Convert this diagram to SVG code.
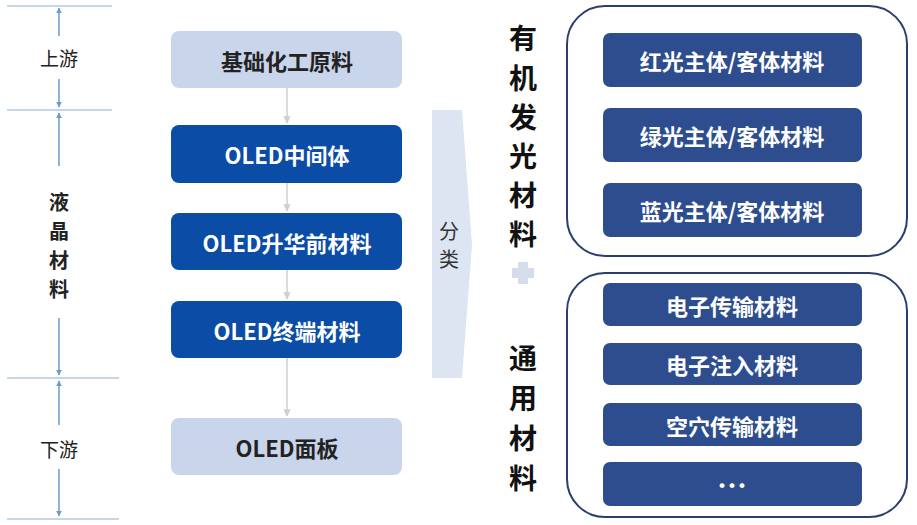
<svg xmlns="http://www.w3.org/2000/svg" width="917" height="525" viewBox="0 0 917 525">
<defs>
<style>
.t{font-family:"Noto Sans CJK SC","Liberation Sans",sans-serif;font-weight:bold;text-anchor:middle;dominant-baseline:central}
.lt{fill:#c9d5ea}.dk{fill:#0b4ca6}.in{fill:#2d4d8e}
.wl{fill:#fff;font-size:22px}.bk{fill:#222;font-size:22px}
.vl{fill:#222;font-size:20px}
.ti{font-size:28px;fill:#111}
.grid{stroke:#8aaed0;stroke-width:1.2}
.ar{stroke:#6a9bcb;stroke-width:1.5;fill:none}
.cn{stroke:#cfcfcf;stroke-width:1.5;fill:none}
.box{fill:none;stroke:#2a3f6c;stroke-width:2}
</style>
<marker id="ba" viewBox="0 0 10 10" refX="9" refY="5" markerWidth="4" markerHeight="4" orient="auto-start-reverse"><path d="M0,0L10,5L0,10z" fill="#6a9bcb"/></marker>
<marker id="ga" viewBox="0 0 10 10" refX="9" refY="5" markerWidth="5" markerHeight="5" orient="auto"><path d="M0,0L10,5L0,10z" fill="#d0d0d0"/></marker>
</defs>
<g id="axis">
<line class="grid" x1="7" y1="6" x2="112" y2="6"/>
<line class="grid" x1="7" y1="110" x2="112" y2="110"/>
<line class="grid" x1="7" y1="378" x2="119" y2="378"/>
<line class="grid" x1="7" y1="519" x2="119" y2="519"/>
<line class="ar" x1="59" y1="36" x2="59" y2="8" marker-end="url(#ba)"/>
<line class="ar" x1="59" y1="79" x2="59" y2="107" marker-end="url(#ba)"/>
<line class="ar" x1="59" y1="166" x2="59" y2="113" marker-end="url(#ba)"/>
<line class="ar" x1="59" y1="318" x2="59" y2="375" marker-end="url(#ba)"/>
<line class="ar" x1="59" y1="425" x2="59" y2="381" marker-end="url(#ba)"/>
<line class="ar" x1="59" y1="469" x2="59" y2="516" marker-end="url(#ba)"/>
<text class="t" x="59" y="57" style="font-weight:normal;font-size:19px;fill:#222">上游</text>
<text class="t" x="59" y="448" style="font-weight:normal;font-size:19px;fill:#222">下游</text>
<text class="t vl" x="59" y="201">液</text>
<text class="t vl" x="59" y="230">晶</text>
<text class="t vl" x="59" y="259">材</text>
<text class="t vl" x="59" y="288">料</text>
</g>
<g id="connectors">
<line class="cn" x1="287" y1="88" x2="287" y2="123" marker-end="url(#ga)"/>
<line class="cn" x1="287" y1="183" x2="287" y2="211" marker-end="url(#ga)"/>
<line class="cn" x1="287" y1="270" x2="287" y2="299" marker-end="url(#ga)"/>
<line class="cn" x1="287" y1="358" x2="287" y2="416" marker-end="url(#ga)"/>
</g>
<g id="n1"><rect class="lt" x="171" y="31" width="231" height="57" rx="8"/><text class="t bk" x="287" y="60">基础化工原料</text></g>
<g id="n2"><rect class="dk" x="171" y="125" width="231" height="58" rx="8"/><text class="t wl" x="287" y="154">OLED中间体</text></g>
<g id="n3"><rect class="dk" x="171" y="213" width="231" height="57" rx="8"/><text class="t wl" x="287" y="242">OLED升华前材料</text></g>
<g id="n4"><rect class="dk" x="171" y="301" width="231" height="57" rx="8"/><text class="t wl" x="287" y="330">OLED终端材料</text></g>
<g id="n5"><rect class="lt" x="171" y="418" width="231" height="57" rx="8"/><text class="t bk" x="287" y="447">OLED面板</text></g>
<g id="classify">
<polygon points="432,110 462,110 472,245 462,378 432,378" fill="#dde5f2"/>
<text class="t" x="449" y="230" style="font-weight:normal;font-size:20px;fill:#333">分</text>
<text class="t" x="449" y="258" style="font-weight:normal;font-size:20px;fill:#333">类</text>
</g>
<g id="titles">
<text class="t ti" x="523" y="37">有</text>
<text class="t ti" x="523" y="77">机</text>
<text class="t ti" x="523" y="116">发</text>
<text class="t ti" x="523" y="155">光</text>
<text class="t ti" x="523" y="194">材</text>
<text class="t ti" x="523" y="233">料</text>
<text class="t ti" x="523" y="357">通</text>
<text class="t ti" x="523" y="397">用</text>
<text class="t ti" x="523" y="437">材</text>
<text class="t ti" x="523" y="477">料</text>
<path d="M518,262h10v6h6v10h-6v6h-10v-6h-6v-10h6z" fill="#d5dcea"/>
</g>
<g id="group1"><rect class="box" x="567" y="6" width="340" height="250" rx="38"/></g>
<g id="group2"><rect class="box" x="567" y="273" width="340" height="244" rx="38"/></g>
<g id="m1"><rect class="in" x="603" y="33" width="259" height="54" rx="7"/><text class="t wl" x="732" y="60">红光主体/客体材料</text></g>
<g id="m2"><rect class="in" x="603" y="108" width="259" height="54" rx="7"/><text class="t wl" x="732" y="135">绿光主体/客体材料</text></g>
<g id="m3"><rect class="in" x="603" y="183" width="259" height="54" rx="7"/><text class="t wl" x="732" y="210">蓝光主体/客体材料</text></g>
<g id="m4"><rect class="in" x="603" y="283" width="259" height="43" rx="7"/><text class="t wl" x="732" y="305">电子传输材料</text></g>
<g id="m5"><rect class="in" x="603" y="343" width="259" height="42" rx="7"/><text class="t wl" x="732" y="364">电子注入材料</text></g>
<g id="m6"><rect class="in" x="603" y="403" width="259" height="43" rx="7"/><text class="t wl" x="732" y="425">空穴传输材料</text></g>
<g id="m7"><rect class="in" x="603" y="462" width="259" height="44" rx="7"/><text class="t wl" x="732" y="484" style="font-size:30px">…</text></g>
</svg>
